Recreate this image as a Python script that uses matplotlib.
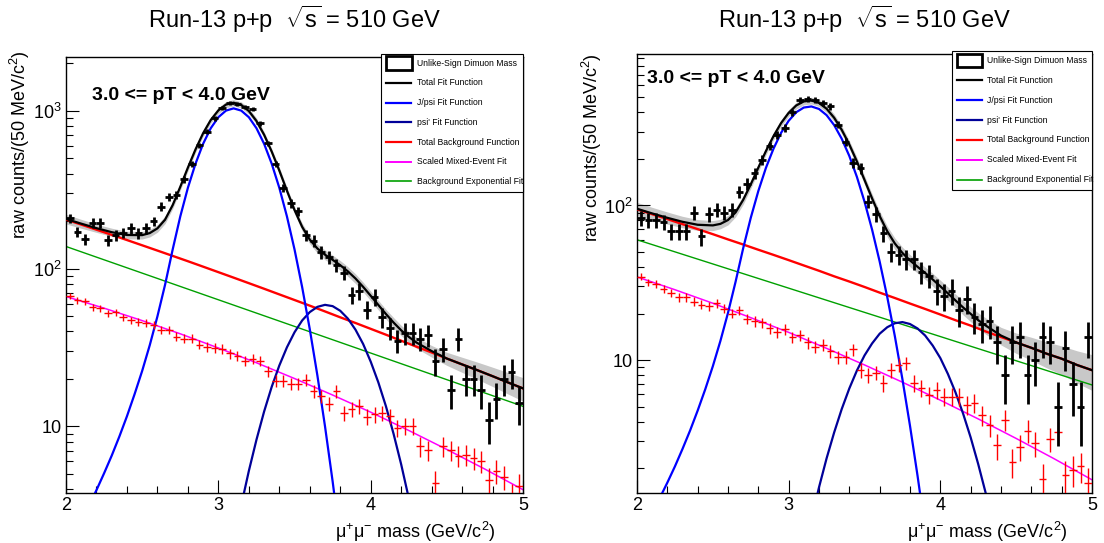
"""Run-13 p+p dimuon invariant mass fits, 3.0 <= pT < 4.0 GeV, two fit variants side by side."""
import matplotlib

matplotlib.use("Agg")
import matplotlib.pyplot as plt
import numpy as np
from matplotlib.patches import Rectangle
from matplotlib.ticker import FuncFormatter, LogLocator, MultipleLocator, NullFormatter

plt.rcParams["font.family"] = ["Liberation Sans", "DejaVu Sans"]
plt.rcParams["mathtext.fontset"] = "custom"
plt.rcParams["mathtext.rm"] = "Liberation Sans"
plt.rcParams["mathtext.it"] = "Liberation Sans:italic"
plt.rcParams["mathtext.bf"] = "Liberation Sans:bold"
plt.rcParams["mathtext.default"] = "regular"

# 50 MeV mass bins, 2.0 - 5.0 GeV
MASS_BINS = np.arange(2.025, 5.0, 0.05)
BIN_HALF = 0.025

# ---- left panel -------------------------------------------------------------
LEFT_COUNTS = [
    208, 171, 154, 194, 194, 152, 163, 169, 180, 168,
    180, 199, 247, 283, 293, 368, 460, 604, 736, 895,
    1045, 1114, 1102, 1060, 1021, 832, 622, 460, 323, 259,
    230, 163, 150, 127, 118, 105, 94, 68, 72, 55,
    66, 49, 42, 35, 39, 39, 36, 38, 26, 31,
    17, 36, 20, 20, 17, 11, 15, 20, 22, 14,
]
LEFT_MIXED = [
    67, 63, 62, 57, 56, 52, 53, 49, 47, 46,
    45, 44, 41, 41, 37, 36, 36, 33, 32, 31.5,
    31, 29, 28, 26, 26.7, 26.1, 22.3, 19.5, 19.5, 18.6,
    18.6, 19.8, 16.8, 15.5, 13.9, 16.7, 12.2, 12.8, 13.4, 11.5,
    11.9, 12.2, 11.6, 9.8, 10.1, 10.0, 7.5, 7.1, 4.4, 7.5,
    7.1, 6.5, 6.6, 6.3, 6.0, 4.6, 5.2, 4.8, 3.6, 4.2,
]
LEFT_MIXED_SCALE = 0.15

# ---- right panel ------------------------------------------------------------
RIGHT_COUNTS = [
    83, 81, 81, 78, 68, 68, 68, 90, 63, 88,
    94, 90, 94, 123, 138, 162, 198, 243, 287, 317,
    400, 479, 489, 479, 460, 437, 333, 259, 188, 174,
    106, 88, 66, 50, 48, 45, 45, 37, 35, 28,
    26, 28, 21, 25, 19, 17, 18, 13, 8, 13,
    14, 8, 10, 14, 13, 5, 12, 7, 5, 14,
]
RIGHT_MIXED = [
    34.7, 31.8, 31.1, 28.8, 27.1, 25.5, 25.5, 23.9, 22.8, 22.4,
    23.3, 21.5, 20.0, 21.0, 18.5, 17.8, 17.5, 16.0, 15.2, 15.8,
    14.0, 14.5, 13.0, 12.2, 12.6, 11.4, 10.5, 10.5, 11.7, 8.6,
    8.0, 8.3, 7.1, 8.6, 9.3, 9.55, 7.1, 6.6, 5.95, 6.4,
    5.8, 5.8, 5.8, 5.1, 5.3, 4.4, 3.8, 2.8, 4.1, 2.2,
    2.75, 3.5, 2.9, 1.7, 3.1, 3.4, 1.8, 1.95, 2.05, 1.6,
]
RIGHT_MIXED_SCALE = 0.10

# ---- fit functions, sampled -------------------------------------------------
FIT_X = [
    2.0, 2.1, 2.2, 2.3, 2.4, 2.5, 2.55, 2.6, 2.65, 2.7, 2.75, 2.8, 2.85, 2.9,
    2.95, 3.0, 3.05, 3.1, 3.15, 3.2, 3.25, 3.3, 3.35, 3.4, 3.45, 3.5, 3.55,
    3.6, 3.65, 3.7, 3.75, 3.8, 3.85, 3.9, 3.95, 4.0, 4.05, 4.1, 4.15, 4.2,
    4.25, 4.3, 4.4, 4.5, 4.6, 4.7, 4.8, 4.9, 5.0,
]
LEFT_FIT = [
    206.2, 192.5, 180.3, 170.0, 163.2, 162.9, 167.9, 179.8, 204.0, 252.3,
    329.7, 436.3, 569, 720.8, 873.8, 1005, 1094, 1124, 1089, 996,
    861, 705, 551, 418, 311.5, 234.7, 183.7, 152.5, 134, 122.4,
    113.6, 105, 96, 86.5, 76.6, 67.2, 58.8, 51.5, 45.5, 40.6,
    36.9, 34.0, 30.0, 26.9, 24.7, 22.7, 20.8, 19.0, 17.4,
]
LEFT_FIT_ERR = [
    .07, .065, .06, .06, .055, .055,
    .055, .055, .055, .05, .05, .05, .045, .045, .045, .045,
    .045, .045, .045, .045, .045, .045, .045, .05, .05, .05,
    .055, .06, .065, .07, .07, .07, .07, .07, .07, .07,
    .07, .07, .075, .075, .08, .08,
    .085, .095, .11, .125, .14, .155, .17,
]
RIGHT_FIT = [
    95.2, 88.8, 83.2, 78.4, 75.0, 74.3, 76.0, 80.5, 90.2, 108.7,
    136.9, 175.7, 224.8, 280.9, 341.1, 397.3, 443.6, 470.9, 477.2, 460.3,
    422.6, 369.2, 308.3, 247.8, 192.5, 146.4, 111.1, 85.5, 68.1, 56.8,
    49.3, 44.1, 40.1, 36.6, 33.2, 30.0, 27.0, 24.3, 21.9, 19.9,
    18.1, 16.7, 14.4, 13.0, 12.0, 11.0, 10.2, 9.3, 8.6,
]
RIGHT_FIT_ERR = [
    .10, .095, .09, .085, .08, .075,
    .07, .07, .065, .065, .06, .06, .055, .055, .05, .05,
    .05, .05, .05, .05, .055, .055, .06, .06, .065, .065,
    .07, .075, .08, .085, .09, .09, .09, .09, .095, .095,
    .10, .10, .105, .11, .115, .12,
    .13, .15, .17, .19, .21, .235, .26,
]

BKG_X = [
    2.0, 2.1, 2.2, 2.3, 2.4, 2.5, 2.6, 2.7, 2.8, 2.9, 3.0, 3.1, 3.2, 3.3, 3.4,
    3.5, 3.6, 3.7, 3.8, 3.9, 4.0, 4.1, 4.2, 4.3, 4.4, 4.5, 4.6, 4.7, 4.8, 4.9, 5.0,
]
LEFT_BKG = [
    204.5, 190.0, 176.3, 163.5, 151.6, 140.4, 130.0, 120.3, 111.3, 102.8,
    94.9, 87.6, 80.8, 74.5, 68.6, 63.2, 58.2, 53.5, 49.1, 45.2,
    41.5, 38.1, 34.9, 32.0, 29.4, 26.9, 24.7, 22.7, 20.8, 19.0, 17.4,
]
RIGHT_BKG = [
    94.5, 87.8, 81.6, 75.7, 70.3, 65.2, 60.3, 55.9, 51.7, 47.9,
    44.3, 40.9, 37.8, 34.8, 32.2, 29.7, 27.3, 25.2, 23.2, 21.4,
    19.7, 18.1, 16.7, 15.3, 14.1, 13.0, 12.0, 11.0, 10.2, 9.3, 8.6,
]

EXPO_X = [2.0, 5.0]
LEFT_EXPO = [138, 13.4]
RIGHT_EXPO = [60, 6.9]

MIXFIT_X = [2.0, 2.25, 2.5, 2.75, 3.0, 3.25, 3.5, 3.75, 4.0, 4.25, 4.5, 4.75, 5.0]
LEFT_MIXFIT = [66.5, 56.1, 46.8, 38.6, 31.4, 25.3, 20.1, 15.8, 12.3, 9.42, 7.14, 5.36, 3.97]
RIGHT_MIXFIT = [34.5, 28.5, 23.3, 18.8, 15.1, 11.9, 9.30, 7.19, 5.50, 4.16, 3.11, 2.30, 1.68]

JPSI_X = [
    2.0, 2.1, 2.15, 2.2, 2.25, 2.3, 2.35, 2.4, 2.45, 2.5, 2.55, 2.6, 2.65,
    2.7, 2.75, 2.8, 2.85, 2.9, 2.95, 3.0, 3.05, 3.1, 3.15, 3.2, 3.25, 3.3,
    3.35, 3.4, 3.45, 3.5, 3.55, 3.6, 3.65, 3.7, 3.75, 3.8, 3.85, 3.9,
]
LEFT_JPSI = [
    1.68, 2.52, 3.14, 3.95, 5.05, 6.53, 8.62, 11.6, 16.0, 22.5, 32.8, 49.8, 78.9,
    132, 214, 325, 462, 618, 775, 910, 1002, 1035, 1002, 910, 775, 618,
    462, 325, 214, 132, 76.2, 41.3, 21.0, 10.0, 4.48, 1.87, 0.74, 0.27,
]
RIGHT_JPSI = [
    0.69, 1.03, 1.28, 1.61, 2.05, 2.66, 3.50, 4.71, 6.47, 9.12, 13.3, 20.2, 32.1,
    52.8, 83.1, 124, 175, 233, 295, 353, 401, 430, 437, 421, 384, 331,
    270, 209, 153, 106, 69.8, 43.4, 25.6, 14.3, 7.53, 3.76, 1.78, 0.80,
]

LEFT_PSI2_X = [
    3.0, 3.1, 3.15, 3.2, 3.25, 3.3, 3.35, 3.4, 3.45, 3.5, 3.55, 3.6, 3.65, 3.7,
    3.75, 3.8, 3.85, 3.9, 3.95, 4.0, 4.05, 4.1, 4.15, 4.2, 4.25, 4.3, 4.4,
]
LEFT_PSI2 = [
    0.52, 1.8, 3.16, 5.22, 8.23, 12.4, 17.8, 24.3, 31.7, 39.5, 46.9, 53.0, 57.2, 58.9,
    57.8, 54.0, 48.2, 41.0, 33.3, 25.7, 19.0, 13.4, 8.97, 5.74, 3.50, 2.04, 0.60,
]
RIGHT_PSI2_X = [
    3.1, 3.15, 3.2, 3.25, 3.3, 3.35, 3.4, 3.45, 3.5, 3.55, 3.6, 3.65, 3.7, 3.75,
    3.8, 3.85, 3.9, 3.95, 4.0, 4.05, 4.1, 4.15, 4.2, 4.25, 4.3, 4.35,
]
RIGHT_PSI2 = [
    0.56, 0.93, 1.50, 2.31, 3.40, 4.82, 6.55, 8.55, 10.7, 12.8, 14.8, 16.3, 17.3, 17.6,
    17.1, 16.0, 14.4, 12.4, 10.3, 8.13, 6.18, 4.51, 3.16, 2.12, 1.37, 0.85,
]

TITLE = r"Run-13 p+p  $\sqrt{s}$ = 510 GeV"
BIN_LABEL = "3.0 <= pT < 4.0 GeV"
YLABEL = r"raw counts/(50 MeV/c$^{2}$)"
XLABEL = r"$\mu^{+}\mu^{-}$ mass (GeV/c$^{2}$)"

C_JPSI = "#0000ff"
C_PSI2 = "#000099"
C_BKG = "#ff0000"
C_MIX = "#ff00ff"
C_EXPO = "#00a000"
C_BAND = "#c8c8c8"

LEGEND = [
    ("Unlike-Sign Dimuon Mass", None, 0),
    ("Total Fit Function", "black", 1.6),
    ("J/psi Fit Function", C_JPSI, 1.6),
    ("psi' Fit Function", C_PSI2, 1.6),
    ("Total Background Function", C_BKG, 1.6),
    ("Scaled Mixed-Event Fit", C_MIX, 1.4),
    ("Background Exponential Fit", C_EXPO, 1.2),
]


def log_label(v, pos):
    e = int(round(np.log10(v)))
    return "10" if e == 1 else rf"$10^{{{e}}}$"


def draw_legend(ax, x0):
    tr = ax.transAxes
    ax.add_patch(Rectangle((x0, 0.690), 1.0 - x0, 0.317, transform=tr,
                           facecolor="white", edgecolor="black", lw=0.8,
                           clip_on=False, zorder=10))
    for i, (label, color, lw) in enumerate(LEGEND):
        y = 0.985 - 0.0452 * i
        if color is None:
            ax.add_patch(Rectangle((x0 + 0.011, y - 0.0155), 0.056, 0.031,
                                   transform=tr, facecolor="white",
                                   edgecolor="black", lw=2.0, clip_on=False,
                                   zorder=11))
        else:
            ax.plot([x0 + 0.011, x0 + 0.066], [y, y], color=color, lw=lw,
                    transform=tr, clip_on=False, zorder=11)
        ax.text(x0 + 0.078, y, label, transform=tr, fontsize=6.2,
                ha="left", va="center", zorder=12)


def draw_panel(ax, p):
    ax.fill_between(FIT_X, np.array(p["fit"]) * (1 - np.array(p["fit_err"])),
                    np.array(p["fit"]) * (1 + np.array(p["fit_err"])),
                    color=C_BAND, lw=0, zorder=1)
    ax.plot(EXPO_X, p["expo"], color=C_EXPO, lw=1.0, zorder=2)
    ax.plot(MIXFIT_X, p["mixfit"], color=C_MIX, lw=1.1, zorder=2)
    ax.plot(BKG_X, p["bkg"], color=C_BKG, lw=1.7, zorder=3)
    ax.plot(p["psi2_x"], p["psi2"], color=C_PSI2, lw=1.6, zorder=3)
    ax.plot(JPSI_X, p["jpsi"], color=C_JPSI, lw=1.6, zorder=3)
    ax.plot(FIT_X, p["fit"], color="black", lw=1.6, zorder=4)

    mixed = np.array(p["mixed"])
    ax.errorbar(MASS_BINS, mixed, yerr=np.sqrt(mixed * p["mixed_scale"]),
                xerr=BIN_HALF, fmt="none", ecolor=C_BKG, elinewidth=1.0,
                capsize=0, zorder=5)
    counts = np.array(p["counts"], dtype=float)
    ax.errorbar(MASS_BINS, counts, yerr=np.sqrt(counts), xerr=BIN_HALF,
                fmt="none", ecolor="black", elinewidth=2.0, capsize=0, zorder=6)

    ax.set_yscale("log")
    ax.set_xlim(2, 5)
    ax.set_ylim(*p["ylim"])
    ax.xaxis.set_major_locator(MultipleLocator(1))
    ax.xaxis.set_minor_locator(MultipleLocator(0.2))
    ax.yaxis.set_major_locator(LogLocator(base=10, numticks=10))
    ax.yaxis.set_minor_locator(LogLocator(base=10, subs=np.arange(2, 10), numticks=20))
    ax.yaxis.set_major_formatter(FuncFormatter(log_label))
    ax.yaxis.set_minor_formatter(NullFormatter())
    ax.tick_params(which="both", direction="in", top=False, right=False,
                   labelsize=13, width=0.8)
    ax.tick_params(which="major", length=9.4)
    ax.tick_params(which="minor", length=4.7)
    ax.tick_params(axis="x", pad=3)
    ax.tick_params(axis="y", pad=3)
    for s in ax.spines.values():
        s.set_linewidth(1.0)

    ax.text(0.5, p["title_y"], TITLE, transform=ax.transAxes, fontsize=17,
            ha="center", va="center")
    ax.text(*p["bin_xy"], BIN_LABEL, transform=ax.transAxes, fontsize=14,
            fontweight="bold", ha="left", va="center", zorder=7)
    ax.text(*p["ylabel_xy"], YLABEL, transform=ax.transAxes, fontsize=13,
            rotation=90, ha="center", va="top")
    ax.text(*p["xlabel_xy"], XLABEL, transform=ax.transAxes, fontsize=13,
            ha="right", va="center")
    draw_legend(ax, p["legend_x0"])


def main():
    left = dict(counts=LEFT_COUNTS, mixed=LEFT_MIXED, mixed_scale=LEFT_MIXED_SCALE,
                fit=LEFT_FIT, fit_err=LEFT_FIT_ERR, bkg=LEFT_BKG, expo=LEFT_EXPO,
                mixfit=LEFT_MIXFIT, jpsi=LEFT_JPSI, psi2_x=LEFT_PSI2_X, psi2=LEFT_PSI2,
                ylim=(3.8, 2200), title_y=1.085, bin_xy=(0.057, 0.912),
                ylabel_xy=(-0.101, 1.015), xlabel_xy=(0.939, -0.089),
                legend_x0=0.689)
    right = dict(counts=RIGHT_COUNTS, mixed=RIGHT_MIXED, mixed_scale=RIGHT_MIXED_SCALE,
                 fit=RIGHT_FIT, fit_err=RIGHT_FIT_ERR, bkg=RIGHT_BKG, expo=RIGHT_EXPO,
                 mixfit=RIGHT_MIXFIT, jpsi=RIGHT_JPSI, psi2_x=RIGHT_PSI2_X, psi2=RIGHT_PSI2,
                 ylim=(1.38, 955), title_y=1.078, bin_xy=(0.022, 0.945),
                 ylabel_xy=(-0.099, 1.002), xlabel_xy=(0.945, -0.088),
                 legend_x0=0.692)

    fig = plt.figure(figsize=(11.04, 5.43), dpi=100)
    ax_l = fig.add_axes([0.0598, 0.0926, 0.4140, 0.8030])
    ax_r = fig.add_axes([0.5770, 0.0921, 0.4121, 0.8085])
    draw_panel(ax_l, left)
    draw_panel(ax_r, right)
    fig.savefig("out.png", dpi=100)
    plt.close(fig)


if __name__ == "__main__":
    main()
